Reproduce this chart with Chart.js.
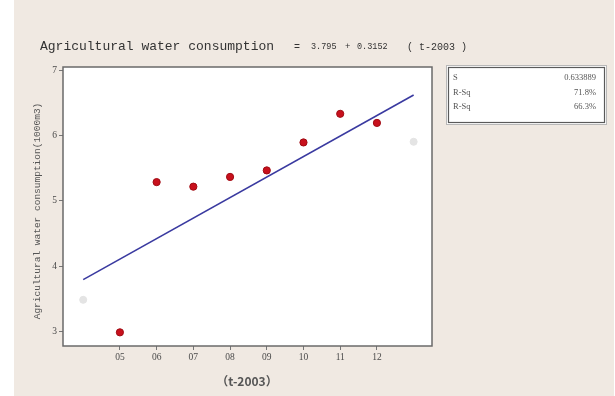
<!DOCTYPE html>
<html>
<head>
<meta charset="utf-8">
<script src="https://cdn.jsdelivr.net/npm/chart.js@4/dist/chart.umd.min.js"></script>
<style>
html,body{margin:0;padding:0;background:#ffffff;}
#c{display:block;}
</style>
</head>
<body>
<canvas id="c" width="615" height="396"></canvas>
<script>
// ---- data ----
const years = [5, 6, 7, 8, 9, 10, 11, 12];
const consumption = [2.98, 5.29, 5.22, 5.37, 5.47, 5.90, 6.34, 6.20];
const fitX = [4, 13];
const fitY = [3.79, 6.63];
const extraX = [4, 13];
const extraY = [3.48, 5.91];
const xTickValues = [5, 6, 7, 8, 9, 10, 11, 12];
const xTickLabels = ['05', '06', '07', '08', '09', '10', '11', '12'];
const yTickValues = [3, 4, 5, 6, 7];
const statNames = ['S', 'R-Sq', 'R-Sq'];
const statValues = ['0.633889', '71.8%', '66.3%'];
const titlePieces = ['Agricultural water consumption', '=', '3.795', '+', '0.3152', '(t-2003)'];
const yTitle = 'Agricultural water consumption(1000m3)';
const xTitle = '（t-2003）';

const toPts = (xs, ys) => xs.map((x, i) => ({x: x, y: ys[i]}));

const decor = {
  id: 'decor',
  beforeDraw(chart) {
    const ctx = chart.ctx, a = chart.chartArea;
    ctx.save();
    ctx.fillStyle = '#ffffff';
    ctx.fillRect(0, 0, chart.width, chart.height);
    ctx.fillStyle = '#f0e9e2';
    ctx.fillRect(14, 0, 600, chart.height);
    ctx.fillStyle = '#ffffff';
    ctx.fillRect(a.left, a.top, a.right - a.left, a.bottom - a.top);
    ctx.restore();
  },
  afterDraw(chart) {
    const ctx = chart.ctx, a = chart.chartArea;
    ctx.save();
    // plot frame
    ctx.strokeStyle = '#6a6a6a';
    ctx.lineWidth = 1.5;
    ctx.strokeRect(a.left, a.top, a.right - a.left, a.bottom - a.top);
    // title
    ctx.fillStyle = '#333333';
    ctx.textBaseline = 'middle';
    ctx.textAlign = 'left';
    const tx = [40, 294, 311, 345, 357, 407];
    const tf = ['13px "Liberation Mono"', '10px "Liberation Mono"', '8.5px "Liberation Mono"',
                '9px "Liberation Mono"', '8.5px "Liberation Mono"', '10px "Liberation Mono"'];
    titlePieces.forEach((t, i) => {
      ctx.font = tf[i];
      let s = t;
      if (i === 5) { s = '( t-2003 )'; }
      ctx.fillText(s, tx[i], 47);
    });
    // y title
    ctx.save();
    ctx.translate(37, 211);
    ctx.rotate(-Math.PI / 2);
    ctx.textAlign = 'center';
    ctx.font = '9.5px "Liberation Mono"';
    ctx.fillStyle = '#555';
    ctx.fillText(yTitle, 0, 0);
    ctx.restore();
    // x title
    ctx.textAlign = 'center';
    ctx.font = 'bold 12px "Noto Sans CJK SC"';
    ctx.fillStyle = '#555';
    ctx.fillText(xTitle, 247, 381);
    // stats box
    ctx.fillStyle = '#ffffff';
    ctx.fillRect(447, 66, 159, 58);
    ctx.strokeStyle = '#b8b8b8';
    ctx.lineWidth = 1;
    ctx.strokeRect(446.5, 65.5, 160, 59);
    ctx.strokeStyle = '#5a5a5a';
    ctx.lineWidth = 1.2;
    ctx.strokeRect(448.5, 67.5, 156, 55);
    ctx.font = '8.5px "Liberation Serif"';
    ctx.fillStyle = '#555';
    statNames.forEach((n, i) => {
      const y = 78 + i * 14.5;
      ctx.textAlign = 'left';
      ctx.fillText(n, 453, y);
      ctx.textAlign = 'right';
      ctx.fillText(statValues[i], 596, y);
    });
    ctx.restore();
  }
};

new Chart(document.getElementById('c'), {
  type: 'scatter',
  data: {
    datasets: [
      {
        type: 'line',
        data: toPts(fitX, fitY),
        borderColor: '#3a3aa0',
        borderWidth: 1.6,
        pointRadius: 0,
        fill: false,
        order: 2
      },
      {
        data: toPts(extraX, extraY),
        backgroundColor: '#e4e4e4',
        borderColor: '#e4e4e4',
        pointRadius: 3.5,
        order: 3
      },
      {
        data: toPts(years, consumption),
        backgroundColor: '#c8101c',
        borderColor: '#a00c14',
        borderWidth: 1,
        pointRadius: 3.6,
        order: 1
      }
    ]
  },
  options: {
    responsive: false,
    animation: false,
    events: [],
    layout: {padding: {left: 0, right: 183, top: 67, bottom: 0}},
    plugins: {legend: {display: false}, tooltip: {enabled: false}, title: {display: false}},
    scales: {
      x: {
        type: 'linear',
        min: 3.45,
        max: 13.5,
        afterBuildTicks: s => { s.ticks = xTickValues.map(v => ({value: v})); },
        afterFit: s => { s.height = 50; },
        ticks: {
          callback: v => xTickLabels[xTickValues.indexOf(v)],
          font: {family: 'Liberation Serif', size: 9.5},
          color: '#4a4a4a',
          padding: 2,
          maxRotation: 0
        },
        grid: {drawOnChartArea: false, drawTicks: true, tickLength: 4, color: '#777'},
        border: {display: false}
      },
      y: {
        type: 'linear',
        min: 2.77,
        max: 7.06,
        afterBuildTicks: s => { s.ticks = yTickValues.map(v => ({value: v})); },
        afterFit: s => { s.width = 63; },
        ticks: {
          font: {family: 'Liberation Serif', size: 9.5},
          color: '#4a4a4a',
          padding: 2
        },
        grid: {drawOnChartArea: false, drawTicks: true, tickLength: 4, color: '#777'},
        border: {display: false}
      }
    }
  },
  plugins: [decor]
});
</script>
</body>
</html>
